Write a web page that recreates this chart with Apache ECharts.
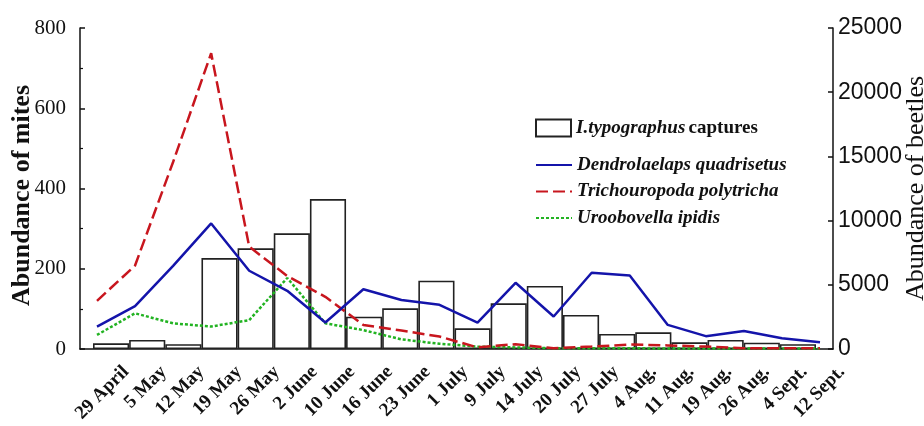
<!DOCTYPE html>
<html>
<head>
<meta charset="utf-8">
<script src="https://cdn.jsdelivr.net/npm/echarts@6/dist/echarts.min.js"></script>
<style>
html,body{margin:0;padding:0;background:#fff;}
#chart{width:924px;height:426px;}
</style>
</head>
<body>
<div id="chart"></div>
<script>
const categories = ['29 April','5 May','12 May','19 May','26 May','2 June','10 June','16 June','23 June','1 July','9 July','14 July','20 July','27 July','4 Aug.','11 Aug.','19 Aug.','26 Aug.','4 Sept.','12 Sept.'];
const beetles = [440, 700, 370, 7080, 7840, 9010, 11680, 2520, 3170, 5320, 1610, 3560, 4910, 2650, 1170, 1300, 520, 700, 490, 370];
const dendrolaelaps = [56, 107, 207, 313, 195, 145, 66, 149, 122, 110, 66, 165, 81, 190, 183, 60, 32, 45, 27, 17];
const trichouropoda = [120, 208, 466, 737, 255, 182, 130, 60, 46, 31, 4, 12, 2, 6, 11, 9, 6, 2, 2, 2];
const uroobovella = [35, 89, 64, 56, 72, 177, 64, 47, 24, 13, 6, 4, 2, 2, 2, 1, 1, 1, 1, 1];
const miteTicks = [0, 200, 400, 600, 800];
const beetleTicks = [0, 5000, 10000, 15000, 20000, 25000];

const serif = '"Liberation Serif", "DejaVu Serif", serif';
const sans = '"Liberation Sans", Arial, sans-serif';
const TOP = 28, BOTTOM = 77;

const chart = echarts.init(document.getElementById('chart'), null, {renderer: 'canvas'});
const hidden = {show: false};
const plain = function (v) { return String(v); };

const option = {
  animation: false,
  backgroundColor: '#fff',
  grid: [
    {left: 80, right: 91, top: TOP, bottom: BOTTOM, containLabel: false, outerBoundsMode: 'none'},   // frame with visible axes
    {left: 93, right: 108, top: TOP, bottom: BOTTOM, containLabel: false, outerBoundsMode: 'none'},  // bars
    {left: 97, right: 104, top: TOP, bottom: BOTTOM, containLabel: false, outerBoundsMode: 'none'},  // lines
    {left: 126, right: 82, top: TOP, bottom: BOTTOM, containLabel: false, outerBoundsMode: 'none'}   // date labels
  ],
  xAxis: [
    {gridIndex: 0, type: 'category', data: categories, boundaryGap: true,
     axisLine: {show: true, lineStyle: {color: '#111', width: 1.5}},
     axisTick: {show: false}, axisLabel: {show: false}, splitLine: {show: false}},
    {gridIndex: 1, type: 'category', data: categories, boundaryGap: true, show: false},
    {gridIndex: 2, type: 'category', data: categories, boundaryGap: false, show: false},
    {gridIndex: 3, type: 'category', data: categories, boundaryGap: false,
     axisLine: {show: false}, axisTick: {show: false}, splitLine: {show: false},
     axisLabel: {show: true, interval: 0, rotate: 45, margin: 20, hideOverlap: false,
       fontFamily: serif, fontWeight: 'bold', fontSize: 19, color: '#111'}}
  ],
  yAxis: [
    {gridIndex: 0, type: 'value', position: 'left', min: miteTicks[0], max: miteTicks[miteTicks.length - 1], interval: 200,
     name: 'Abundance of mites', nameLocation: 'middle', nameRotate: 90, nameGap: 45, nameMoveOverlap: false,
     nameTextStyle: {fontFamily: serif, fontWeight: 'bold', fontSize: 26, color: '#111', padding: [0, 14, 0, 0]},
     axisLine: {show: true, lineStyle: {color: '#111', width: 1.5}},
     axisTick: {show: true, inside: true, length: 5, lineStyle: {color: '#111', width: 1.5}},
     minorTick: {show: true, splitNumber: 2, length: 3, lineStyle: {color: '#111', width: 1.2}},
     axisLabel: {show: true, margin: 14, fontFamily: serif, fontSize: 21, color: '#111', formatter: plain},
     splitLine: {show: false}},
    {gridIndex: 0, type: 'value', position: 'right', min: beetleTicks[0], max: beetleTicks[beetleTicks.length - 1], interval: 5000,
     name: 'Abundance of beetles', nameLocation: 'middle', nameRotate: 90, nameGap: 70, nameMoveOverlap: false,
     nameTextStyle: {fontFamily: serif, fontSize: 26, color: '#111'},
     axisLine: {show: true, lineStyle: {color: '#111', width: 1.5}},
     axisTick: {show: true, inside: true, length: 5, lineStyle: {color: '#111', width: 1.5}},
     axisLabel: {show: true, margin: 5, fontFamily: sans, fontSize: 23, color: '#111', formatter: plain},
     splitLine: {show: false}},
    {gridIndex: 1, type: 'value', min: 0, max: 25000, show: false, splitLine: hidden},
    {gridIndex: 2, type: 'value', min: 0, max: 800, show: false, splitLine: hidden},
    {gridIndex: 3, type: 'value', min: 0, max: 800, show: false, splitLine: hidden}
  ],
  legend: [
    {orient: 'vertical', left: 530, top: 113.5, itemWidth: 35, itemHeight: 17, itemGap: 0,
     data: [{name: 'I.typographus captures', icon: 'rect'}],
     formatter: function () { return '{i|I.typographus} {b|captures}'; },
     textStyle: {color: '#111', rich: {
       i: {fontFamily: serif, fontStyle: 'italic', fontWeight: 'bold', fontSize: 19, color: '#111'},
       b: {fontFamily: serif, fontWeight: 'bold', fontSize: 19, color: '#111'}}}},
    {orient: 'vertical', left: 530, top: 150, itemWidth: 36, itemHeight: 14, itemGap: 6.5,
     itemStyle: {opacity: 0},
     data: ['Dendrolaelaps quadrisetus', 'Trichouropoda polytricha', 'Uroobovella ipidis'],
     textStyle: {fontFamily: serif, fontStyle: 'italic', fontWeight: 'bold', fontSize: 19, lineHeight: 20, color: '#111'}}
  ],
  series: [
    {name: 'I.typographus captures', type: 'bar', xAxisIndex: 1, yAxisIndex: 2, data: beetles,
     barCategoryGap: '0%', z: 1,
     itemStyle: {color: '#fff', borderColor: '#222', borderWidth: 1.6}},
    {name: 'Dendrolaelaps quadrisetus', type: 'line', xAxisIndex: 2, yAxisIndex: 3, data: dendrolaelaps,
     symbol: 'none', z: 5, lineStyle: {color: '#1414aa', width: 2.5}, itemStyle: {color: '#1414aa'}},
    {name: 'Trichouropoda polytricha', type: 'line', xAxisIndex: 2, yAxisIndex: 3, data: trichouropoda,
     symbol: 'none', z: 4, lineStyle: {color: '#c8161e', width: 2.5, type: [12, 5]}, itemStyle: {color: '#c8161e'}},
    {name: 'Uroobovella ipidis', type: 'line', xAxisIndex: 2, yAxisIndex: 3, data: uroobovella,
     symbol: 'none', z: 3, lineStyle: {color: '#22b322', width: 2.5, type: [3, 2]}, itemStyle: {color: '#22b322'}}
  ]
};
chart.setOption(option);
</script>
</body>
</html>
